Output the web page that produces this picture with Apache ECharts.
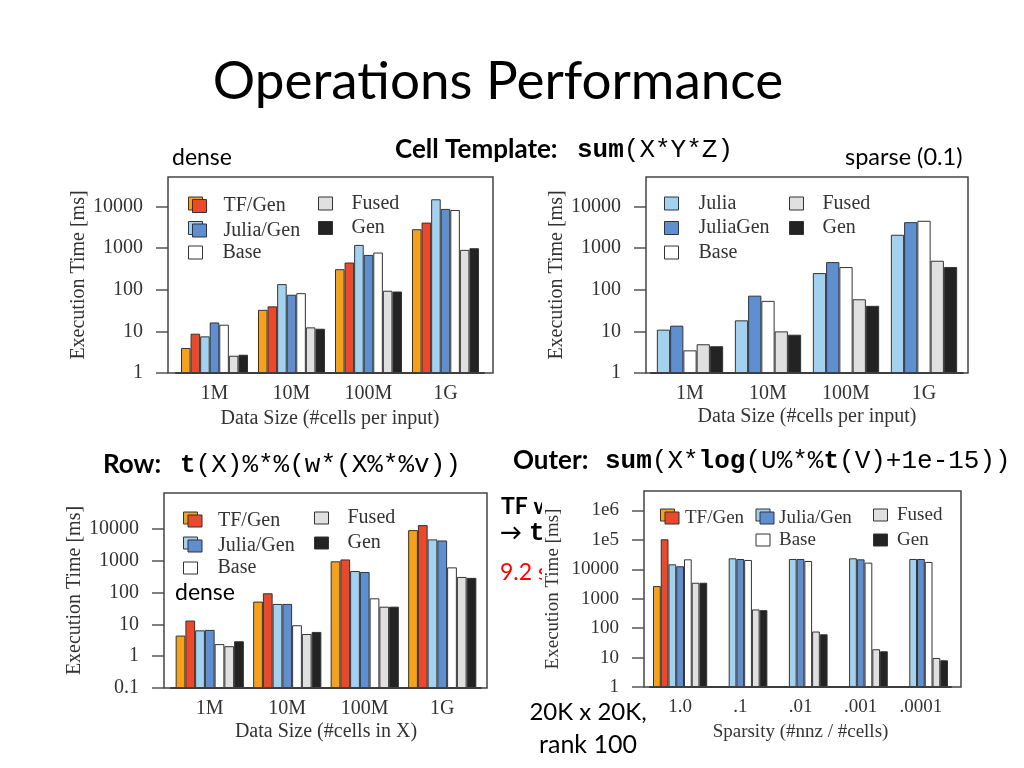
<!DOCTYPE html>
<html><head><meta charset="utf-8">
<script src="https://cdn.jsdelivr.net/npm/echarts@6/dist/echarts.min.js"></script>
<style>html,body{margin:0;padding:0;background:#fff}#c{width:1024px;height:768px}</style>
</head><body><div id="c"></div>
<script>
// ---------- data ----------
const sizeCats = ['1M', '10M', '100M', '1G'];
const sparsityCats = ['1.0', '.1', '.01', '.001', '.0001'];

// Cell template, dense
const cellDenseTF       = [4.0, 33, 313, 2860];
const cellDenseTFGen    = [8.8, 40, 453, 4130];
const cellDenseJulia    = [7.6, 137, 1200, 15000];
const cellDenseJuliaGen = [16.4, 76, 690, 8800];
const cellDenseBase     = [14.5, 83, 787, 8300];
const cellDenseFused    = [2.6, 12.5, 95, 912];
const cellDenseGen      = [2.75, 11.6, 91, 1000];

// Cell template, sparse (0.1)
const cellSparseJulia    = [11, 18.4, 251, 2090];
const cellSparseJuliaGen = [13.7, 72, 461, 4200];
const cellSparseBase     = [3.5, 54, 350, 4530];
const cellSparseFused    = [4.9, 10, 59, 497];
const cellSparseGen      = [4.4, 8.3, 41, 350];

// Row
const rowTF       = [4.45, 52, 960, 9200];
const rowTFGen    = [13.2, 95, 1100, 13200];
const rowJulia    = [6.5, 44, 475, 4700];
const rowJuliaGen = [6.7, 44, 445, 4350];
const rowBase     = [2.4, 9.4, 66, 620];
const rowFused    = [2.06, 5.0, 36, 310];
const rowGen      = [2.95, 5.8, 36, 290];

// Outer
const outerTF       = [2700, null, null, null, null];
const outerTFGen    = [105000, null, null, null, null];
const outerJulia    = [14800, 23700, 22500, 23700, 22500];
const outerJuliaGen = [12700, 22500, 22500, 21900, 22500];
const outerBase     = [21900, 20800, 19200, 16900, 17800];
const outerFused    = [3500, 433, 77, 19.2, 9.7];
const outerGen      = [3500, 410, 62, 16.4, 8.1];

// tick labels
const decadeTicks = [1, 10, 100, 1000, 10000];
const rowTicks = [0.1, 1, 10, 100, 1000, 10000];
const outerTicks = [1, 10, 100, 1000, 10000, 1e5, 1e6];

// ---------- styles ----------
const SERIF = "'Liberation Serif', 'Times New Roman', serif";
const SANS = "Lato, 'DejaVu Sans', sans-serif";
const MONO = "'Liberation Mono', monospace";
const COLORS = {
  'TF': '#F6A11E', 'TF/Gen': '#EA4A2B', 'Julia': '#A2D2EF', 'Julia/Gen': '#5F8FCF',
  'JuliaGen': '#5F8FCF', 'Base': '#FFFFFF', 'Fused': '#E0E0E0', 'Gen': '#232323'
};
const TXT = '#333';

function fmtLog(v) {
  const l = Math.log10(v), e = Math.round(l);
  if (Math.abs(l - e) > 1e-6) return '';
  if (e >= 5) return '1e' + e;
  if (e < 0) return Math.pow(10, e).toFixed(-e);
  return String(Math.round(Math.pow(10, e)));
}

function yAx(gi, min, max, offset, nameGap, ticks, fs, extra) {
  return Object.assign({
    type: 'log', logBase: 10, gridIndex: gi, min: min, max: max, startValue: min, offset: offset,
    name: 'Execution Time [ms]', nameLocation: 'middle', nameGap: nameGap, nameRotate: 90,
    nameTextStyle: {fontFamily: SERIF, fontSize: fs, color: TXT},
    axisLine: {show: false},
    axisTick: {show: true, length: 12, lineStyle: {color: '#555', width: 1.5}, customValues: ticks},
    axisLabel: {margin: 25, fontFamily: SERIF, fontSize: fs, color: TXT, customValues: ticks, formatter: fmtLog},
    splitLine: {show: false}
  }, extra || {});
}
function xAx(gi, data, name, nameGap, fs) {
  return {
    type: 'category', gridIndex: gi, data: data, name: name, nameLocation: 'middle', nameGap: nameGap,
    nameTextStyle: {fontFamily: SERIF, fontSize: fs, color: TXT},
    axisLine: {show: true, lineStyle: {color: '#2a2a2a', width: 2}},
    axisTick: {show: false},
    axisLabel: {margin: 11, fontFamily: SERIF, fontSize: fs, color: TXT},
    splitLine: {show: false}
  };
}
function barSeries(idx, names, arrays, gap) {
  return names.map((n, i) => ({
    type: 'bar', name: n, xAxisIndex: idx, yAxisIndex: idx, data: arrays[i],
    barGap: '0%', barCategoryGap: gap,
    itemStyle: {color: COLORS[n], borderColor: '#333', borderWidth: 1},
    emphasis: {disabled: true}
  }));
}
// top = desired icon top; layout box includes the taller text, so shift up by (fs-ih)/2
function leg(data, left, iconTop, iw, ih, spacing, fs, pad, formatter, z) {
  const o = {
    data: data, left: left, top: iconTop - (fs - ih) / 2, orient: 'vertical', padding: 0,
    itemWidth: iw, itemHeight: ih, itemGap: spacing - fs, icon: 'rect', selectedMode: false, z: z || 4,
    itemStyle: {borderColor: '#333', borderWidth: 1},
    textStyle: {fontFamily: SERIF, fontSize: fs, color: TXT, padding: [0, 0, 0, pad]}
  };
  if (formatter) o.formatter = formatter;
  return o;
}
const onlyBase = n => (n === 'Base' ? 'Base' : ' ');
const blank = () => ' ';

function txt(x, y, text, font, fill, align, rich) {
  const s = {text: text, font: font, fill: fill || '#000', align: align || 'left', verticalAlign: 'middle',
             textAlign: align || 'left', textVerticalAlign: 'middle'};
  if (rich) s.rich = rich;
  return {type: 'text', x: x, y: y, z: 10, style: s};
}
function frame(x, y, w, h) {
  return {type: 'rect', z: 3, shape: {x: x, y: y, width: w, height: h},
          style: {fill: 'none', stroke: '#444', lineWidth: 1.5}};
}
const monoRich = {
  m: {fontFamily: MONO, fontSize: 26, fill: '#000'},
  mb: {fontFamily: MONO, fontSize: 26, fontWeight: 'bold', fill: '#000'}
};

const fullNames = ['TF', 'TF/Gen', 'Julia', 'Julia/Gen', 'Base', 'Fused', 'Gen'];

const option = {
  animation: false,
  backgroundColor: '#fff',
  grid: [
    {left: 176, top: 177, width: 308, height: 196},
    {left: 651, top: 177, width: 312, height: 196},
    {left: 171, top: 493, width: 310, height: 195},
    {left: 650, top: 491, width: 301, height: 196}
  ],
  xAxis: [
    xAx(0, sizeCats, 'Data Size (#cells per input)', 36, 20),
    xAx(1, sizeCats, 'Data Size (#cells per input)', 34, 20),
    xAx(2, sizeCats, 'Data Size (#cells in X)', 34, 20),
    xAx(3, sparsityCats, 'Sparsity (#nnz / #cells)', 36, 19)
  ],
  yAxis: [
    yAx(0, 1, 51500, 8, 77, decadeTicks, 20),
    yAx(1, 1, 51000, 5, 78, decadeTicks, 20),
    yAx(2, 0.1, 135000, 7, 79, rowTicks, 20),
    yAx(3, 1, 4.6e6, 6, 81, outerTicks, 19, {z: 12})
  ],
  legend: [
    // chart 1
    leg(['TF', 'Julia', 'Base'], 188, 197, 14, 13, 24.5, 20, 15, onlyBase, 4),
    leg(['TF/Gen', 'Julia/Gen'], 192, 199.5, 14, 13, 24.5, 20, 12, null, 5),
    leg(['Fused', 'Gen'], 318, 197, 14, 13, 24.5, 20, 14, null, 4),
    // chart 2
    leg(['Julia', 'JuliaGen', 'Base'], 664, 197, 14, 13, 24.5, 20, 15, null, 4),
    leg(['Fused', 'Gen'], 789, 197, 14, 13, 24.5, 20, 14, null, 4),
    // chart 3
    leg(['TF', 'Julia', 'Base'], 183, 512, 14, 12, 25, 20, 15, onlyBase, 4),
    leg(['TF/Gen', 'Julia/Gen'], 187.5, 515, 14, 12, 25, 20, 11, null, 5),
    leg(['Fused', 'Gen'], 314, 512, 14, 12, 25, 20, 14, null, 4),
    // chart 4
    leg(['TF'], 660, 509, 14, 12, 25, 19, 0, blank, 4),
    leg(['TF/Gen'], 664.5, 512, 14, 12, 25, 19, 1, null, 5),
    leg(['Julia', 'Base'], 755.5, 509, 14, 12, 25, 19, 4, onlyBase, 4),
    leg(['Julia/Gen'], 759.5, 512, 14, 12, 25, 19, 0, null, 5),
    leg(['Fused', 'Gen'], 873, 509, 14, 12, 25, 19, 4.5, null, 4)
  ],
  series: [].concat(
    barSeries(0, fullNames, [cellDenseTF, cellDenseTFGen, cellDenseJulia, cellDenseJuliaGen, cellDenseBase, cellDenseFused, cellDenseGen], '13%'),
    barSeries(1, ['Julia', 'JuliaGen', 'Base', 'Fused', 'Gen'], [cellSparseJulia, cellSparseJuliaGen, cellSparseBase, cellSparseFused, cellSparseGen], '15%'),
    barSeries(2, fullNames, [rowTF, rowTFGen, rowJulia, rowJuliaGen, rowBase, rowFused, rowGen], '12%'),
    barSeries(3, fullNames, [outerTF, outerTFGen, outerJulia, outerJuliaGen, outerBase, outerFused, outerGen], '10%')
  ),
  graphic: [
    frame(168, 177, 325, 196),
    frame(646, 177, 322, 196),
    frame(164, 493, 323, 195),
    frame(644, 491, 317, 196),
    txt(498, 82, 'Operations Performance', '53px ' + SANS, '#000', 'center'),
    txt(172, 158, 'dense', '23px ' + SANS),
    txt(395, 150, 'Cell Template:', 'bold 26px ' + SANS),
    txt(577, 150, '{mb|sum}{m|(X*Y*Z)}', '26px ' + MONO, '#000', 'left', monoRich),
    txt(845, 157, 'sparse (0.1)', '23.5px ' + SANS),
    txt(103, 465, 'Row:', 'bold 26px ' + SANS),
    txt(180, 465, '{mb|t}{m|(X)%*%(w*(X%*%v))}', '26px ' + MONO, '#000', 'left', monoRich),
    txt(513, 461, 'Outer:', 'bold 26px ' + SANS),
    txt(605, 461, '{mb|sum}{m|(X*}{mb|log}{m|(U%*%}{mb|t}{m|(V)+1e-15))}', '26px ' + MONO, '#000', 'left', monoRich),
    txt(501, 507, 'TF w', 'bold 23px Lato'),
    txt(500, 533, '\u2192', 'bold 22px ' + SANS),
    txt(529, 533, 't', 'bold 26px ' + MONO),
    txt(500, 573, '9.2 s', '23px ' + SANS, '#FF0000'),
    {type: 'rect', z: 11, shape: {x: 542, y: 492, width: 18, height: 95}, style: {fill: '#fff'}},
    txt(588, 712, '20K x 20K,', '24px ' + SANS, '#000', 'center'),
    txt(588, 745, 'rank 100', '25px ' + SANS, '#000', 'center'),
    txt(175, 593, 'dense', '23px ' + SANS)
  ]
};

const chart = echarts.init(document.getElementById('c'), null, {renderer: 'canvas'});
chart.setOption(option);
</script>
</body></html>
